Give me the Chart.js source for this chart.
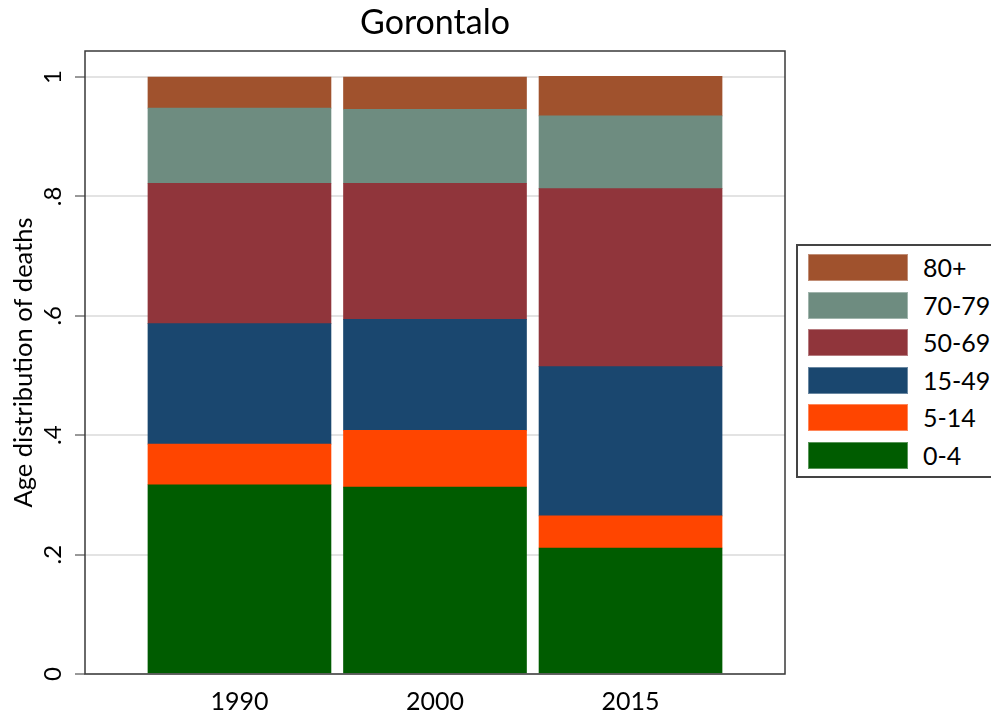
<!DOCTYPE html>
<html>
<head>
<meta charset="utf-8">
<script src="https://cdn.jsdelivr.net/npm/chart.js@4.4.1/dist/chart.umd.min.js"></script>
<style>
  html, body { margin: 0; padding: 0; background: #fff; }
  #wrap { position: relative; width: 991px; height: 719px; overflow: hidden; }
  #legend {
    position: absolute; left: 796px; top: 244px; width: 210px; height: 234px;
    border: 2px solid #444; box-sizing: border-box; background: #fff;
    font-family: Lato, sans-serif; font-size: 25px; color: #000;
  }
  .swatch { position: absolute; left: 10px; width: 100px; height: 27px; box-sizing: border-box; }
  .label { position: absolute; left: 125px; height: 27px; line-height: 27px; white-space: nowrap; }
</style>
</head>
<body>
<div id="wrap">
  <canvas id="chart" width="991" height="719"></canvas>
  <div id="legend"></div>
</div>
<script>
// Gorontalo – age distribution of deaths, stacked shares per year

const YEARS  = ['1990', '2000', '2015'];
const GROUPS = ['0-4', '5-14', '15-49', '50-69', '70-79', '80+'];
const COLORS = ['#005c00', '#ff4500', '#1a476f', '#90353b', '#6e8c80', '#a0522d'];

// share of deaths by age group, one array per group (1990, 2000, 2015)
const AGE_0_4   = [0.317, 0.313, 0.211];
const AGE_5_14  = [0.068, 0.095, 0.054];
const AGE_15_49 = [0.202, 0.186, 0.250];
const AGE_50_69 = [0.235, 0.228, 0.298];
const AGE_70_79 = [0.126, 0.124, 0.122];
const AGE_80P   = [0.052, 0.054, 0.066];

const SERIES  = [AGE_0_4, AGE_5_14, AGE_15_49, AGE_50_69, AGE_70_79, AGE_80P];
const Y_TICKS = [0, 0.2, 0.4, 0.6, 0.8, 1];
const Y_MAX   = 1.0436;

const FONT = 'Lato, sans-serif';
Chart.defaults.font.family = FONT;
Chart.defaults.color = '#000';

function fmtTick(v) {
  if (v === 0) return '0';
  if (v === 1) return '1';
  return String(Math.round(v * 10) / 10).replace(/^0/, '');
}

const datasets = GROUPS.map((g, k) => ({
  label: g,
  data: SERIES[k].map((v, i) => ({ x: i + 1, y: v })),
  backgroundColor: COLORS[k],
  borderWidth: 0,
  barThickness: 183,
}));

const framePlugin = {
  id: 'frame',
  afterDatasetsDraw(chart) {
    const { ctx, chartArea: a } = chart;
    ctx.save();
    ctx.strokeStyle = '#3a3a3a';
    ctx.lineWidth = 1.5;
    ctx.strokeRect(a.left, a.top, a.right - a.left, a.bottom - a.top);
    ctx.restore();
  },
};

new Chart(document.getElementById('chart'), {
  type: 'bar',
  data: { datasets },
  options: {
    responsive: false,
    animation: false,
    layout: { padding: { left: 0, top: 0, right: 206, bottom: 0 } },
    plugins: {
      legend: { display: false },
      tooltip: { enabled: false },
      title: {
        display: true,
        text: 'Gorontalo',
        fullSize: false,
        color: '#000',
        font: { family: FONT, size: 34, weight: 'normal', lineHeight: 1.2 },
        padding: { top: 3, bottom: 7.2 },
      },
    },
    scales: {
      x: {
        type: 'linear',
        stacked: true,
        offset: false,
        min: 0.21,
        max: 3.79,
        afterBuildTicks: s => { s.ticks = YEARS.map((_, i) => ({ value: i + 1 })); },
        afterFit: s => { s.height = 45; },
        grid: { display: false, drawTicks: false },
        border: { display: false },
        ticks: {
          padding: 13,
          maxRotation: 0,
          autoSkip: false,
          font: { size: 25 },
          color: '#000',
          callback: v => YEARS[v - 1],
        },
      },
      y: {
        stacked: true,
        min: 0,
        max: Y_MAX,
        afterBuildTicks: s => { s.ticks = Y_TICKS.map(v => ({ value: v })); },
        afterFit: s => { s.width = 85; },
        grid: { color: '#e3e3e3', lineWidth: 2, tickColor: '#333', tickLength: 10, tickWidth: 1 },
        border: { display: false },
        ticks: {
          minRotation: 90,
          maxRotation: 90,
          crossAlign: 'center',
          padding: 12,
          font: { size: 24 },
          color: '#000',
          callback: v => fmtTick(v),
        },
        title: {
          display: true,
          text: 'Age distribution of deaths',
          color: '#000',
          font: { size: 25.5 },
          padding: { top: 8, bottom: 0 },
        },
      },
    },
  },
  plugins: [framePlugin],
});

// legend box, top group first
const legend = document.getElementById('legend');
GROUPS.slice().reverse().forEach((g, j) => {
  const k = GROUPS.length - 1 - j;
  const top = (8 + j * 37.6) + 'px';
  const sw = document.createElement('div');
  sw.className = 'swatch';
  sw.style.top = top;
  sw.style.background = COLORS[k];
  sw.style.border = '1px solid rgba(255,255,255,0.35)';
  const tx = document.createElement('div');
  tx.className = 'label';
  tx.style.top = top;
  tx.textContent = g;
  legend.appendChild(sw);
  legend.appendChild(tx);
});
</script>
</body>
</html>
